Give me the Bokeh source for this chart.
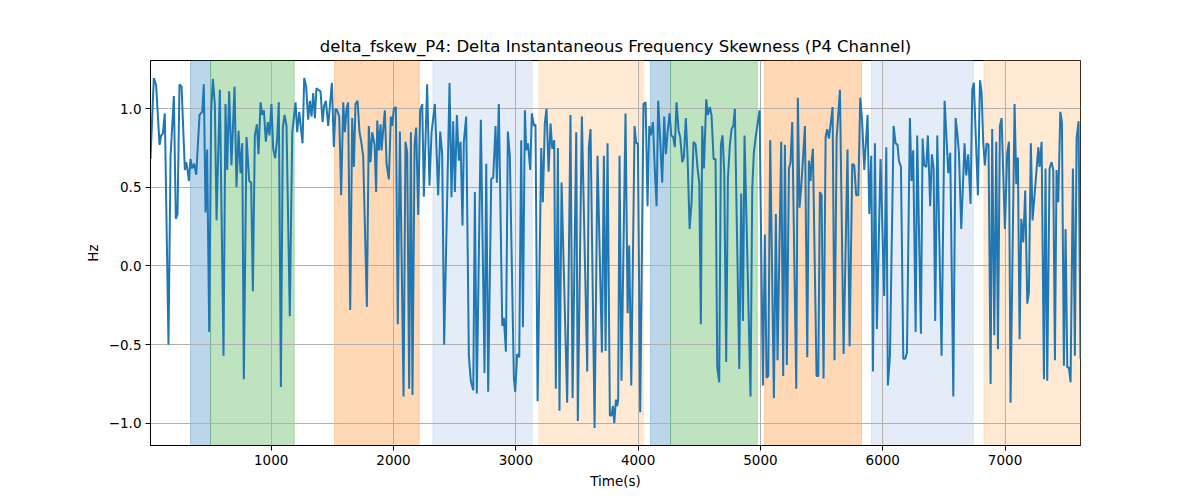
from bokeh.plotting import figure
from bokeh.models import Range1d, FixedTicker, CustomJSTickFormatter, BoxAnnotation
from bokeh.embed import file_html
from bokeh.resources import INLINE

time_s = [13, 40, 59, 87, 100, 114, 130, 160, 177, 204, 220, 234, 250, 267, 294, 305, 316, 327, 340, 354,
          370, 387, 414, 436, 449, 463, 476, 493, 509, 523, 539, 553, 580, 610, 626, 640, 656, 675, 700, 716,
          733, 749, 763, 776, 798, 820, 836, 850, 866, 883, 896, 913, 926, 940,
          956, 972, 986, 1002, 1016, 1032, 1049, 1062, 1079, 1095, 1109, 1125, 1152, 1172, 1199, 1212, 1229,
          1256, 1270, 1286, 1302, 1316, 1330, 1343, 1357, 1370, 1384, 1403, 1420, 1433, 1447, 1466, 1479,
          1496, 1512, 1526, 1539, 1556, 1572, 1589, 1602, 1616, 1629, 1646, 1662, 1676, 1689, 1706, 1722,
          1736, 1752, 1782, 1798, 1812, 1826, 1845, 1858,
          1867, 1880, 1894, 1902, 1913, 1929, 1943, 1962, 1978, 1989, 2003, 2019, 2035, 2052, 2082, 2098,
          2112, 2128, 2142, 2155, 2172, 2185, 2202, 2218, 2235, 2248, 2275, 2294, 2311, 2338, 2365, 2382,
          2398, 2414, 2458, 2474, 2488, 2502, 2518, 2534, 2548, 2564, 2575, 2594, 2616, 2632, 2652, 2665,
          2681, 2714, 2744, 2758, 2774, 2799, 2815, 2834,
          2845, 2861, 2889, 2902, 2919, 2935, 2951, 2984, 2995, 3011, 3028, 3044, 3058, 3074, 3085, 3099,
          3118, 3131, 3148, 3161, 3178, 3208, 3221, 3237, 3251, 3268, 3284, 3298, 3314, 3327, 3344, 3357,
          3374, 3420, 3447, 3464, 3494, 3507, 3540, 3584, 3597, 3611, 3644, 3668, 3704, 3720, 3734, 3750, 3769,
          3783, 3794, 3805, 3818, 3829, 3837, 3848, 3864, 3897, 3914, 3927, 3944, 3971, 3984, 3998, 4017,
          4044, 4061, 4077, 4091, 4104, 4121, 4137, 4151, 4164, 4181, 4197, 4213, 4227, 4241, 4257, 4271,
          4287, 4300, 4314, 4331, 4344, 4361, 4374, 4390, 4404, 4421, 4437, 4453, 4470, 4486, 4500, 4513,
          4524, 4538, 4557, 4570, 4587, 4600, 4617, 4633, 4647, 4663, 4677, 4690, 4704,
          4720, 4734, 4750, 4764, 4778, 4791, 4827, 4843, 4857, 4870, 4919, 4933, 4946, 4963, 4977, 4993,
          5020, 5036, 5050, 5064, 5080, 5110, 5126, 5140, 5170, 5186, 5200, 5216, 5233, 5246, 5260, 5293,
          5306, 5320, 5336, 5364, 5383, 5396, 5410, 5418, 5429, 5459, 5473, 5486, 5500, 5516, 5533, 5546,
          5560, 5590, 5606, 5623, 5650,
          5680, 5712, 5729, 5751, 5767, 5783, 5800, 5816, 5832, 5849, 5876, 5890, 5906, 5920, 5936, 5952,
          5982, 6012, 6029, 6042, 6059, 6089, 6105, 6121, 6132, 6149, 6168, 6184, 6198, 6222, 6236, 6249,
          6269, 6282, 6312, 6326, 6339, 6356, 6369, 6388, 6402, 6416, 6429, 6446, 6481, 6506, 6536, 6552,
          6577, 6596,
          6609, 6623, 6642, 6669, 6683, 6699, 6718, 6732, 6745, 6778, 6795, 6808, 6822, 6835, 6849, 6865,
          6882, 6895, 6912, 6928, 6942, 6958, 6972, 6999, 7018, 7032, 7045, 7078, 7092, 7105, 7119, 7133,
          7149, 7165, 7182, 7195, 7211, 7225, 7252, 7272, 7282, 7299, 7318, 7331, 7345, 7364, 7381, 7394,
          7408, 7421, 7435, 7452, 7465, 7481, 7495, 7509, 7522, 7536, 7555, 7571, 7585, 7601, 7617]

delta_fskew = [0.68, 1.195, 1.15, 0.77, 0.83, 0.84, 0.97, -0.50, 0.70, 1.08, 0.30, 0.33, 1.155, 1.14, 0.61, 0.66, 0.61, 0.54, 0.68, 0.62,
               0.65, 0.58, 0.96, 0.98, 1.155, 0.34, 0.74, -0.42, 0.98, 1.19, 1.03, 0.29, 1.12, -0.57, 1.03, 0.61, 1.11, 0.64, 1.14, 0.50,
               0.86, 0.59, 0.78, -0.72, 0.82, 0.54, 0.53, -0.16, 0.83, 0.90, 0.71, 1.04, 0.96, 0.99,
               0.79, 0.915, 0.83, 1.03, 0.745, 0.686, 0.81, 1.04, -0.77, 0.88, 0.96, 0.89, -0.32, 0.85, 1.04, 0.85, 0.98,
               0.78, 1.195, 1.14, 0.93, 1.05, 0.95, 1.10, 0.94, 1.13, 1.12, 1.11, 0.915, 1.02, 1.05, 0.89, 1.01,
               1.165, 0.756, 1.0, 0.99, 0.95, 0.45, 1.04, 0.85, 1.0, 1.04, -0.28, 0.94, 0.63, 1.03, 1.05, 0.85,
               0.79, 0.70, -0.26, 0.89, 0.66, 0.85, 0.77, 0.47,
               0.925, 0.735, 0.90, 0.735, 0.84, 0.99, 0.65, 0.55, 0.95, 0.89, 1.0, 1.01, -0.37, 0.855, -0.83, 0.79,
               0.72, -0.78, 0.85, -0.82, 0.77, 0.88, 0.325, 0.99, 1.03, 0.44, 1.155, 0.51, 0.85, 1.03, 0.45, 0.855,
               0.71, -0.50, 1.163, 0.437, 0.92, 0.47, 0.96, 0.67, 0.79, 0.257, 0.79, 0.95, -0.57, -0.73, -0.79, 0.47,
               -0.81, 0.93, -0.68, 0.65, -0.80, 0.555, 0.56, 0.89,
               0.53, 1.03, -0.38, -0.33, -0.545, 0.855, 0.70, -0.71, -0.80, -0.56, -0.58, 0.80, -0.39, 0.99, 0.735, 0.78,
               0.61, 0.97, 0.89, 0.90, -0.86, 0.75, 0.405, 0.905, 1.0, 0.60, 0.905, 0.745, 0.80, -0.78, 0.75, -0.92,
               0.53, -0.87, 0.96, -0.84, 0.85, -0.985, 0.95, -0.67, 0.755, 0.87, -1.03, 0.70, -0.55, 0.70, -0.54, 0.78, -0.95,
               -0.95, -0.89, -1.0, -0.85, -0.89, -0.85, 0.70, -0.73, 0.97, -0.30, 0.13, -0.76, 0.89, 0.78, 0.78, -0.93,
               1.03, 1.04, 0.38, 0.89, 0.83, 0.915, 0.60, 0.38, 1.05, 0.79, 0.53, 0.95, 0.71, 0.85, 0.97, 0.83,
               0.82, 0.755, 1.04, 0.86, 0.82, 0.66, 0.69, 0.94, 0.70, 0.235, 0.405, 0.79, 0.77, 0.62, 0.53, -0.37,
               0.89, 0.62, 1.06, 0.96, 1.01, 0.96, 0.68, 0.68, -0.645, -0.74, 0.77, 0.83, 0.60,
               -0.61, 0.555, 0.77, 0.87, 0.89, 1.0, -0.655, 0.46, -0.35, 0.83, -0.83, 0.49, 0.72, 0.83, 0.905, 0.99,
               -0.76, 0.20, -0.71, -0.70, 0.80, -0.84, 0.33, -0.60, 0.79, -0.70, 0.77, -0.63, 0.62, 0.66, 0.915, -0.78,
               1.07, 0.37, 0.53, 0.89, -0.58, 0.67, 0.54, 0.66, 0.745, -0.70, -0.70, 0.47, 0.45, -0.715, 0.82, 0.87,
               0.81, 1.01, -0.60, 0.81, 1.12,
               -0.56, 0.74, -0.51, 0.65, 0.64, 0.45, 0.45, 1.07, 0.915, 0.61, 0.96, 0.33, 0.70, -0.67, 0.78, -0.40,
               0.68, -0.19, 0.755, -0.76, -0.57, 0.89, 0.78, 0.77, 0.67, 0.63, -0.59, -0.59, -0.55, 0.94, 0.54, 0.735,
               -0.42, 0.83, -0.43, 0.81, 0.64, 0.63, 0.83, 0.38, 0.71, 0.62, -0.35, 0.83, -0.57, 1.05, 0.59, 0.72,
               -0.83, 0.94,
               0.85, 0.72, 0.235, 0.78, 0.575, 0.71, 0.395, 1.12, 1.165, 0.45, 1.18, 1.11, 0.78, 0.64, 0.78, 0.77,
               -0.75, 0.87, -0.44, 0.79, -0.53, 0.89, 0.94, 0.235, 0.72, 0.79, -0.87, 1.03, 0.52, 0.69, -0.465, 0.30,
               0.15, 0.48, -0.24, -0.17, 0.78, 0.29, 0.555, 0.755, 0.63, 0.79, -0.72, 0.62, -0.73, 0.62, 0.66, 0.61,
               -0.60, 0.61, 0.405, 0.98, 0.915, -0.635, 0.235, -0.645, -0.645, -0.74, 0.62, -0.57, 0.81, 0.92, -0.59]

region_start = [340, 504, 1518, 2322, 3188, 4101, 4265, 5034, 5908, 6827]
region_end = [504, 1188, 2210, 3134, 4041, 4265, 4974, 5827, 6740, 7617]
region_color = ["#1f77b4", "#2ca02c", "#ff7f0e", "#aec7e8", "#ffbb78",
                "#1f77b4", "#2ca02c", "#ff7f0e", "#aec7e8", "#ffbb78"]
region_alpha = [0.3, 0.3, 0.3, 0.33, 0.33, 0.3, 0.3, 0.3, 0.33, 0.33]

x_ticks = [1000, 2000, 3000, 4000, 5000, 6000, 7000]
y_ticks = [-1.0, -0.5, 0.0, 0.5, 1.0]

title_text = "delta_fskew_P4: Delta Instantaneous Frequency Skewness (P4 Channel)"
x_label = "Time(s)"
y_label = "Hz"

FONT = "DejaVu Sans"

ymin, ymax = min(delta_fskew), max(delta_fskew)
pad = 0.05 * (ymax - ymin)

p = figure(width=1184, height=492, output_backend="svg", toolbar_location=None,
           x_range=Range1d(time_s[0], time_s[-1]),
           y_range=Range1d(ymin - pad, ymax + pad),
           min_border_left=150, min_border_right=104, min_border_top=60, min_border_bottom=47,
           background_fill_color="white", border_fill_color="white")

for s, e, c, a in zip(region_start, region_end, region_color, region_alpha):
    p.add_layout(BoxAnnotation(left=s, right=e, fill_color=c, fill_alpha=a,
                               line_color=c, line_alpha=a, line_width=1, level="image"))

p.line(time_s, delta_fskew, line_color="#1f77b4", line_width=2)

p.title.text = title_text
p.title.align = "center"
p.title.text_font = FONT
p.title.text_font_size = "16.5px"
p.title.text_font_style = "normal"
p.title.text_color = "black"

p.xaxis.ticker = FixedTicker(ticks=x_ticks)
p.yaxis.ticker = FixedTicker(ticks=y_ticks)
p.yaxis.formatter = CustomJSTickFormatter(
    code="return (tick < 0 ? '\u2212' : '') + Math.abs(tick).toFixed(1);")

p.xaxis.axis_label = x_label
p.yaxis.axis_label = y_label
for ax in [p.xaxis[0], p.yaxis[0]]:
    ax.axis_label_text_font = FONT
    ax.axis_label_text_font_size = "13.5px"
    ax.axis_label_text_font_style = "normal"
    ax.axis_label_text_color = "black"
    ax.major_label_text_font = FONT
    ax.major_label_text_font_size = "13.5px"
    ax.major_label_text_color = "black"
    ax.axis_line_color = "black"
    ax.major_tick_line_color = "black"
    ax.major_tick_out = 5
    ax.major_tick_in = 0
    ax.minor_tick_line_color = None
    ax.major_label_standoff = 4
    ax.axis_label_standoff = 5

p.grid.grid_line_color = "#b0b0b0"
p.grid.grid_line_width = 1
p.outline_line_color = "black"
p.outline_line_alpha = 1

open("out.html", "w").write(file_html(p, INLINE))
